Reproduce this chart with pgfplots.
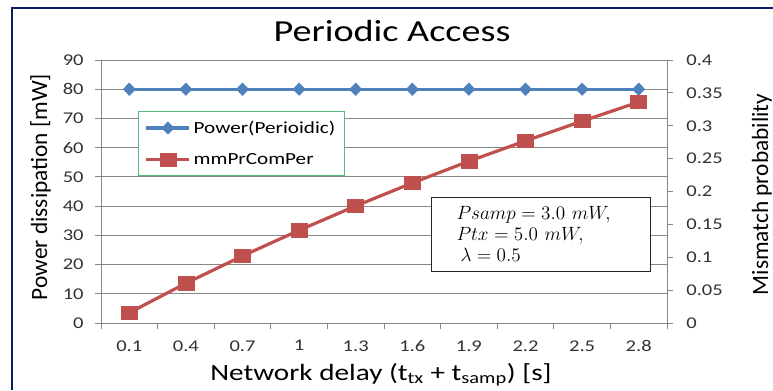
\documentclass[border=0pt]{standalone}
\usepackage{pgfplots}
\usepackage{pgfplotstable}
\pgfplotsset{compat=1.18}
\usepackage{fontspec}
\setmainfont{Carlito}
\newfontfamily\hfont[FakeStretch=1.25]{Carlito}
\definecolor{pblue}{RGB}{79,129,189}
\definecolor{pred}{RGB}{192,80,77}
\definecolor{gridgray}{RGB}{134,134,134}
\definecolor{navy}{RGB}{0,32,96}
\definecolor{lgreen}{RGB}{80,190,120}
\definecolor{ticktext}{RGB}{50,50,50}

\pgfplotstableread{
idx power
0 80
1 80
2 80
3 80
4 80
5 80
6 80
7 80
8 80
9 80
}\powertable
\pgfplotstableread{
idx prob
0 0.0157
1 0.0604
2 0.102
3 0.141
4 0.178
5 0.213
6 0.246
7 0.277
8 0.307
9 0.336
}\probtable

\pgfplotsset{basestyle/.style={
  at={(75.75pt,50.25pt)}, anchor=south west, scale only axis,
  width=424.5pt, height=197.25pt, xmin=-0.5, xmax=9.5,
  axis line style={gridgray, line width=0.75pt},
  tick style={gridgray, line width=0.75pt},
  major tick length=4.5pt, minor tick length=4.5pt, tick align=outside,
  ticklabel style={font=\hfont\fontsize{12.3}{14}\selectfont, text=ticktext},
  /pgf/number format/assume math mode=true,
  clip=false,
}}

\begin{document}
\begin{tikzpicture}[x=0.75pt,y=0.75pt]
\path[use as bounding box] (0,0) rectangle (773,390);
\draw[navy, line width=1.5pt] (12,0) -- (12,382) -- (773,382);

\begin{axis}[basestyle,
  ymin=0, ymax=90, ytick={0,10,...,90},
  xtick={0,...,9},
  xticklabels={0.1,0.4,0.7,1,1.3,1.6,1.9,2.2,2.5,2.8},
  minor xtick={-0.5,0.5,...,9.5},
  major x tick style={draw=none},
  tick pos=left,
  ymajorgrids, grid style={gridgray, line width=0.75pt},
  xticklabel style={yshift=-5pt},
  yticklabel style={xshift=-5pt},
  legend style={at={(0.0654,0.806)}, anchor=north west, draw=lgreen,
    line width=0.75pt, fill=white,
    font=\hfont\fontsize{12.7}{15}\selectfont,
    inner xsep=4.75pt, inner ysep=5pt, row sep=9.5pt},
  legend cell align=left,
  legend image code/.code={\draw[mark repeat=2,mark phase=2,#1] plot coordinates {(0pt,0pt) (16.125pt,0pt) (32.25pt,0pt)};},
]
\addplot[pblue, line width=2.4pt, mark=diamond*, mark size=4.6pt,
  mark options={xscale=1.3, line width=0.5pt, fill=pblue}] table[x=idx, y=power] {\powertable};
\addlegendentry{Power(Perioidic)}
\addlegendimage{pred, line width=2.4pt, mark=square*, mark size=5pt,
  mark options={xscale=1.2, line width=0.5pt, fill=pred}}
\addlegendentry{mmPrComPer}
\end{axis}

\begin{axis}[basestyle,
  ymin=0, ymax=0.4,
  ytick={0,0.05,0.1,0.15,0.2,0.25,0.3,0.35,0.4},
  yticklabels={0,0.05,0.1,0.15,0.2,0.25,0.3,0.35,0.4},
  hide x axis,
  ytick pos=right, yticklabel pos=right,
  yticklabel style={xshift=6.5pt},
]
\addplot[pred, line width=2.4pt, mark=square*, mark size=5pt,
  mark options={xscale=1.2, line width=0.5pt, fill=pred}] table[x=idx, y=prob] {\probtable};
\end{axis}

\node[anchor=base, font=\hfont\fontsize{22.9}{26}\selectfont] at (392,348.3) {Periodic Access};
\node[anchor=base, font=\hfont\fontsize{17.5}{20}\selectfont] at (381,10) {Network delay (t\textsubscript{tx} + t\textsubscript{samp}) [s]};
\node[anchor=base, rotate=90, font=\fontsize{17.5}{20}\selectfont] at (47,203) {Power dissipation [mW]};
\node[anchor=base, rotate=90, font=\fontsize{17.5}{20}\selectfont] at (768,195.5) {Mismatch probability};

\node[draw=black!85, line width=0.75pt, fill=white, anchor=north west,
  text width=126.75pt, inner xsep=18.75pt, inner ysep=7pt, align=left,
  font=\fontsize{15}{15.75}\selectfont] at (431,193)
  {$Psamp = 3.0\ mW,$\\ $Ptx = 5.0\ mW,$\\ \hspace*{3pt}$\lambda = 0.5$};
\end{tikzpicture}
\end{document}
